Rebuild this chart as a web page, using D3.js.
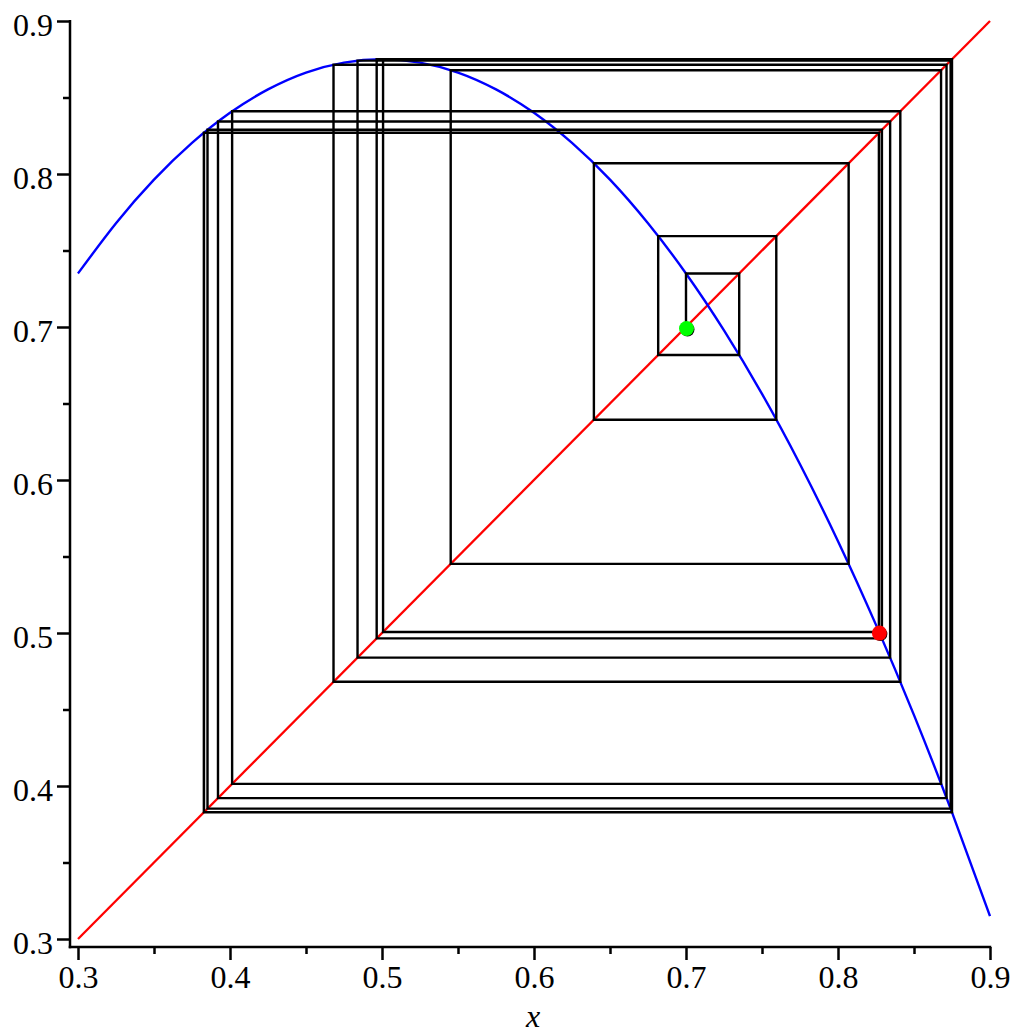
<!DOCTYPE html>
<html>
<head>
<meta charset="utf-8">
<script src="https://cdn.jsdelivr.net/npm/d3@7"></script>
<style>
  html, body { margin: 0; padding: 0; background: #fff; }
  svg { display: block; }
</style>
</head>
<body>
<svg id="chart" width="1013" height="1034" font-family="Liberation Serif" font-size="32"></svg>
<script>
// ---- data ----
// cobweb iterates (x0 .. x26)
const iterates = [0.7, 0.735, 0.6817, 0.7594, 0.6394, 0.8070, 0.5452, 0.8678, 0.4014,
  0.8410, 0.4681, 0.8714, 0.3921, 0.8343, 0.4839, 0.8741, 0.3852, 0.8289, 0.4965,
  0.8750, 0.3829, 0.8270, 0.5007, 0.8750, 0.3828, 0.8269, 0.5009];
// blue curve samples
const curveX = [0.300, 0.325, 0.350, 0.375, 0.400, 0.425, 0.450, 0.475, 0.500, 0.525,
  0.550, 0.575, 0.600, 0.625, 0.650, 0.675, 0.700, 0.725, 0.750, 0.775, 0.800, 0.825,
  0.850, 0.875, 0.900];
const curveY = [0.7350, 0.7678, 0.7963, 0.8203, 0.8400, 0.8553, 0.8663, 0.8728, 0.8750,
  0.8728, 0.8663, 0.8553, 0.8400, 0.8203, 0.7963, 0.7678, 0.7350, 0.6978, 0.6563,
  0.6103, 0.5600, 0.5053, 0.4463, 0.3828, 0.3150];
// diagonal y = x
const diagX = [0.3, 0.9];
const diagY = [0.3, 0.9];
// start and end points
const startPoint = [0.7, 0.7];
const endPoint = [0.8269, 0.5009];
// ticks
const majorTicks = [0.3, 0.4, 0.5, 0.6, 0.7, 0.8, 0.9];
const minorTicks = [0.35, 0.45, 0.55, 0.65, 0.75, 0.85];
const xTitle = "x";

// ---- layout ----
const svg = d3.select("#chart");
const x = d3.scaleLinear().domain([0.3, 0.9]).range([78, 990]);
const y = d3.scaleLinear().domain([0.3, 0.9]).range([939, 21]);
const axisX0 = 70, axisY0 = 947;
const FONT = "Liberation Serif";
const FS = 32;

// cobweb path points
const web = [[iterates[0], iterates[0]]];
for (let i = 0; i < iterates.length - 1; i++) {
  web.push([iterates[i], iterates[i + 1]]);
  if (i < iterates.length - 2) web.push([iterates[i + 1], iterates[i + 1]]);
}

const line = d3.line().x(d => x(d[0])).y(d => y(d[1]));

// diagonal
svg.append("path")
  .datum(diagX.map((v, i) => [v, diagY[i]]))
  .attr("d", line)
  .attr("fill", "none").attr("stroke", "#ff0000").attr("stroke-width", 2.3);

// curve
svg.append("path")
  .datum(curveX.map((v, i) => [v, curveY[i]]))
  .attr("d", d3.line().x(d => x(d[0])).y(d => y(d[1])).curve(d3.curveNatural))
  .attr("fill", "none").attr("stroke", "#0000ff").attr("stroke-width", 2.4);

// cobweb
svg.append("path")
  .datum(web)
  .attr("d", line)
  .attr("fill", "none").attr("stroke", "#000").attr("stroke-width", 2.4)
  .attr("stroke-linejoin", "miter");

// points
function drawPoint(p, color) {
  svg.append("circle").attr("cx", x(p[0]) + 1.5).attr("cy", y(p[1]) + 2.5)
    .attr("r", 7).attr("fill", "#000");
  svg.append("circle").attr("cx", x(p[0]) + 0.5).attr("cy", y(p[1]) + 1.5)
    .attr("r", 7.5).attr("fill", color);
}
drawPoint(startPoint, "#00ff00");
drawPoint(endPoint, "#ff0000");

// axes
const gx = svg.append("g").attr("transform", `translate(0,${axisY0})`);
gx.call(d3.axisBottom(x).tickValues(majorTicks).tickSize(13).tickPadding(5)
  .tickFormat(d3.format(".1f")));
gx.append("g").call(d3.axisBottom(x).tickValues(minorTicks).tickSize(7).tickFormat(""));
const gy = svg.append("g").attr("transform", `translate(${axisX0},0)`);
gy.call(d3.axisLeft(y).tickValues(majorTicks).tickSize(13).tickPadding(4)
  .tickFormat(d3.format(".1f")));
gy.append("g").call(d3.axisLeft(y).tickValues(minorTicks).tickSize(7).tickFormat(""));

svg.selectAll("g").attr("font-family", FONT).attr("font-size", FS);
svg.selectAll(".domain").remove();
svg.selectAll(".tick line").attr("stroke", "#000").attr("stroke-width", 2.5);
svg.selectAll(".tick text").attr("fill", "#000").attr("font-family", FONT).attr("font-size", FS);
gy.selectAll(".tick text").attr("dy", "0.46em");

// axis lines
svg.append("line").attr("x1", axisX0).attr("x2", axisX0)
  .attr("y1", y(0.9) - 1).attr("y2", axisY0 + 1.25)
  .attr("stroke", "#000").attr("stroke-width", 2.5);
svg.append("line").attr("x1", axisX0 - 1.25).attr("x2", x(0.9) + 1.25)
  .attr("y1", axisY0).attr("y2", axisY0)
  .attr("stroke", "#000").attr("stroke-width", 2.5);

// axis title
svg.append("text")
  .attr("x", (x(0.3) + x(0.9)) / 2 - 1).attr("y", 1027)
  .attr("text-anchor", "middle")
  .attr("font-family", FONT).attr("font-size", FS).attr("font-style", "italic")
  .text(xTitle);
</script>
</body>
</html>
